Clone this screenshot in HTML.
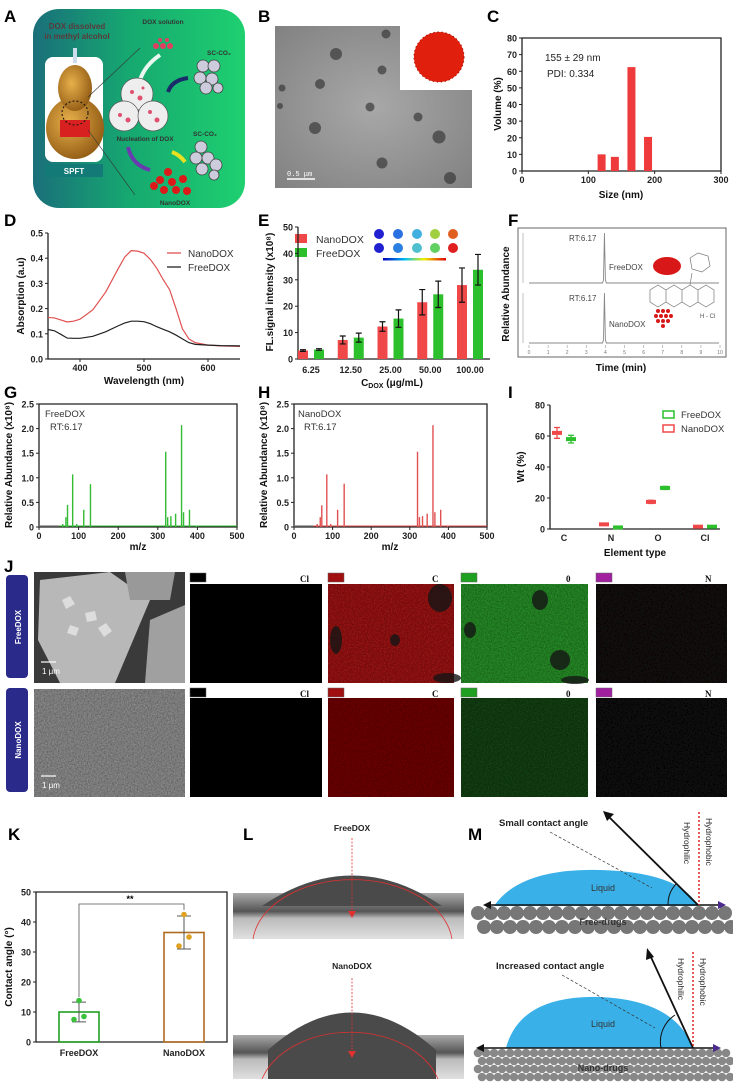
<!DOCTYPE html>
<html><head><meta charset="utf-8"><style>
html,body{margin:0;padding:0;background:#fff;}
svg{display:block;font-family:"Liberation Sans",sans-serif;}
.pl{font-size:17px;font-weight:bold;}
.tk{font-size:9px;font-weight:bold;fill:#222;}
.at{font-size:10px;font-weight:bold;fill:#111;}
</style></head><body>
<svg id="fig" width="733" height="1084" viewBox="0 0 733 1084" xmlns="http://www.w3.org/2000/svg">
<defs>
<linearGradient id="ga" x1="0" x2="1" y1="0" y2="0"><stop offset="0" stop-color="#1a6f7a"/><stop offset="0.45" stop-color="#16a870"/><stop offset="1" stop-color="#1ed070"/></linearGradient>
<radialGradient id="gold" cx="0.4" cy="0.4" r="0.7"><stop offset="0" stop-color="#e8b04a"/><stop offset="1" stop-color="#8a5410"/></radialGradient>
<radialGradient id="tem" cx="0.5" cy="0.5" r="0.8"><stop offset="0" stop-color="#a8a8a8"/><stop offset="1" stop-color="#7c7c7c"/></radialGradient>
<linearGradient id="lim" x1="0" x2="0" y1="0" y2="1"><stop offset="0" stop-color="#aaa"/><stop offset="0.4" stop-color="#555"/><stop offset="0.55" stop-color="#bbb"/><stop offset="1" stop-color="#e0e0e0"/></linearGradient>
<filter id="noise" x="0" y="0" width="1" height="1"><feTurbulence type="fractalNoise" baseFrequency="0.7" numOctaves="2" result="n"/><feColorMatrix in="n" type="matrix" values="0 0 0 0 0  0 0 0 0 0  0 0 0 0 0  0 0 0 0.8 0" result="d"/><feComposite in="d" in2="SourceGraphic" operator="in" result="dd"/><feMerge><feMergeNode in="SourceGraphic"/><feMergeNode in="dd"/></feMerge></filter>
</defs>

<!-- Panel A -->
<g>
<text class="pl" x="4" y="22">A</text>
<rect x="33" y="9" width="212" height="199" rx="26" fill="url(#ga)"/>
<text x="77" y="29" font-size="8" font-weight="bold" fill="#5a3a3a" text-anchor="middle">DOX dissolved</text>
<text x="77" y="39" font-size="8" font-weight="bold" fill="#5a3a3a" text-anchor="middle">in methyl alcohol</text>
<rect x="45" y="57" width="58" height="105" rx="8" fill="#fff"/>
<ellipse cx="75" cy="128" rx="29" ry="31" fill="url(#gold)"/>
<ellipse cx="75" cy="88" rx="17" ry="23" fill="url(#gold)"/>
<rect x="73" y="48" width="4" height="15" fill="#cde"/>
<rect x="60" y="120" width="30" height="17" fill="#d82020"/>
<ellipse cx="75" cy="113" rx="13" ry="12" fill="none" stroke="#111" stroke-dasharray="2 2"/>
<rect x="45" y="164" width="58" height="13" fill="#137a78"/>
<text x="74" y="174" font-size="8" font-weight="bold" fill="#fff" text-anchor="middle">SPFT</text>
<line x1="88" y1="97" x2="140" y2="48" stroke="#333" stroke-width="0.6"/><line x1="88" y1="130" x2="135" y2="195" stroke="#333" stroke-width="0.6"/>
<text x="163" y="24" font-size="6.5" font-weight="bold" fill="#333" text-anchor="middle">DOX solution</text>
<g fill="#e04060"><circle cx="156" cy="46" r="3"/><circle cx="163" cy="46" r="3"/><circle cx="170" cy="46" r="3"/><circle cx="160" cy="40" r="2"/><circle cx="167" cy="40" r="2"/></g>
<path d="M160 55 Q145 65 140 80" stroke="#e8f8f0" stroke-width="4" fill="none"/>
<g fill="#eee" stroke="#555" stroke-width="0.7"><circle cx="137" cy="94" r="16"/><circle cx="124" cy="116" r="15"/><circle cx="153" cy="116" r="15"/></g>
<g fill="#e05070"><circle cx="132" cy="92" r="2"/><circle cx="140" cy="98" r="2.5"/><circle cx="120" cy="115" r="2"/><circle cx="128" cy="120" r="2.5"/><circle cx="150" cy="112" r="2"/><circle cx="157" cy="120" r="2.5"/><circle cx="143" cy="88" r="1.5"/></g>
<text x="207" y="55" font-size="6.5" font-weight="bold" fill="#333">SC-CO₂</text>
<g fill="#ccd" stroke="#444" stroke-width="0.8"><circle cx="203" cy="66" r="6"/><circle cx="214" cy="66" r="6"/><circle cx="200" cy="78" r="6"/><circle cx="212" cy="79" r="6"/><circle cx="206" cy="88" r="6"/><circle cx="218" cy="88" r="5"/></g>
<path d="M188 78 Q172 80 168 92" stroke="#1a2a6a" stroke-width="4" fill="none"/>
<text x="145" y="141" font-size="6.5" font-weight="bold" fill="#333" text-anchor="middle">Nucleation of DOX</text>
<text x="193" y="136" font-size="6.5" font-weight="bold" fill="#333">SC-CO₂</text>
<g fill="#ccd" stroke="#444" stroke-width="0.8"><circle cx="201" cy="147" r="6"/><circle cx="196" cy="158" r="6"/><circle cx="208" cy="158" r="6"/><circle cx="202" cy="169" r="6"/><circle cx="216" cy="165" r="6"/><circle cx="214" cy="175" r="5"/></g>
<path d="M128 147 Q132 165 150 170" stroke="#6a3ab0" stroke-width="4" fill="none"/>
<path d="M172 152 Q180 155 185 162" stroke="#e8e020" stroke-width="4" fill="none"/>
<g fill="#dd1a1a"><circle cx="168" cy="172" r="4"/><circle cx="160" cy="180" r="4"/><circle cx="172" cy="182" r="4"/><circle cx="183" cy="179" r="4"/><circle cx="164" cy="190" r="4"/><circle cx="176" cy="190" r="4"/><circle cx="187" cy="191" r="4"/><circle cx="154" cy="186" r="4"/></g>
<text x="175" y="205" font-size="6.5" font-weight="bold" fill="#333" text-anchor="middle">NanoDOX</text>
</g>

<!-- Panel B -->
<g>
<text class="pl" x="258" y="22">B</text>
<rect x="275" y="26" width="197" height="162" fill="url(#tem)"/>
<g fill="#3a3a3a" opacity="0.7" id="temdots"></g>
<rect x="400" y="26" width="73" height="64" fill="#fff"/>
<circle cx="439" cy="57" r="25" fill="#e0200c"/>
<circle cx="439" cy="57" r="25" fill="none" stroke="#b01000" stroke-width="1" stroke-dasharray="1.5 2.5"/>
<line x1="287" y1="179" x2="315" y2="179" stroke="#fff" stroke-width="1.5"/>
<text x="287" y="176" font-size="7" fill="#fff" font-family="Liberation Mono">0.5 μm</text>
</g>

<!-- Panel C -->
<g id="pc">
<text class="pl" x="487" y="22">C</text>
<text x="545" y="61" font-size="10" fill="#222">155 ± 29 nm</text>
<text x="547" y="77" font-size="10" fill="#222">PDI: 0.334</text>
<text class="at" x="621" y="198" text-anchor="middle">Size (nm)</text>
<text class="at" transform="translate(501,104) rotate(-90)" text-anchor="middle">Volume (%)</text>
</g>

<!-- Panel D -->
<g id="pd">
<text class="pl" x="4" y="226">D</text>
<text class="at" x="144" y="384" text-anchor="middle">Wavelength (nm)</text>
<text class="at" transform="translate(24,296) rotate(-90)" text-anchor="middle">Absorption (a.u)</text>
<line x1="167" y1="253" x2="181" y2="253" stroke="#e05050" stroke-width="1.3"/>
<text x="188" y="257" font-size="10" fill="#333">NanoDOX</text>
<line x1="167" y1="267" x2="181" y2="267" stroke="#222" stroke-width="1.3"/>
<text x="188" y="271" font-size="10" fill="#333">FreeDOX</text>
</g>

<!-- Panel E -->
<g id="pe">
<text class="pl" x="258" y="226">E</text>
<text class="at" transform="translate(273,292) rotate(-90)" text-anchor="middle">FL.signal intensity (x10⁸)</text>
<text class="at" x="392" y="386" text-anchor="middle">C<tspan font-size="7" dy="2">DOX</tspan><tspan dy="-2"> (μg/mL)</tspan></text>
<rect x="295" y="234" width="12" height="9" fill="#f04848"/>
<text x="316" y="243" font-size="10.5" fill="#333">NanoDOX</text>
<rect x="295" y="248" width="12" height="9" fill="#2cc02c"/>
<text x="316" y="257" font-size="10.5" fill="#333">FreeDOX</text>
<g>
<circle cx="379" cy="234" r="5" fill="#2020d0"/><circle cx="398" cy="234" r="5" fill="#2a70e0"/><circle cx="417" cy="234" r="5" fill="#40b0e0"/><circle cx="435" cy="234" r="5" fill="#a0d040"/><circle cx="453" cy="234" r="5" fill="#e06020"/>
<circle cx="379" cy="248" r="5" fill="#2020d0"/><circle cx="398" cy="248" r="5" fill="#2a80e0"/><circle cx="417" cy="248" r="5" fill="#50c0d0"/><circle cx="435" cy="248" r="5" fill="#60d060"/><circle cx="453" cy="248" r="5" fill="#e02020"/>
</g>
<linearGradient id="cbar"><stop offset="0" stop-color="#0000c0"/><stop offset="0.35" stop-color="#00c0f0"/><stop offset="0.65" stop-color="#f0f000"/><stop offset="1" stop-color="#e00000"/></linearGradient>
<rect x="383" y="258" width="63" height="2.5" fill="url(#cbar)"/>
</g>

<!-- Panel F -->
<g id="pf">
<text class="pl" x="508" y="226">F</text>
<rect x="518" y="228" width="208" height="129" fill="#fff" stroke="#666" stroke-width="1"/>
<text class="at" transform="translate(509,294) rotate(-90)" text-anchor="middle" font-size="9">Relative Abundance</text>
<text class="at" x="621" y="371" text-anchor="middle" font-size="9">Time (min)</text>
<text x="569" y="241" font-size="8" fill="#444">RT:6.17</text>
<text x="609" y="270" font-size="8" fill="#444">FreeDOX</text>
<text x="569" y="301" font-size="8" fill="#444">RT:6.17</text>
<text x="609" y="327" font-size="8" fill="#444">NanoDOX</text>
<ellipse cx="667" cy="266" rx="14" ry="9" fill="#d81818"/>
<g fill="#d81818"><circle cx="658" cy="311" r="2"/><circle cx="663" cy="311" r="2"/><circle cx="668" cy="311" r="2"/><circle cx="656" cy="316" r="2"/><circle cx="661" cy="316" r="2"/><circle cx="666" cy="316" r="2"/><circle cx="671" cy="316" r="2"/><circle cx="658" cy="321" r="2"/><circle cx="663" cy="321" r="2"/><circle cx="668" cy="321" r="2"/><circle cx="663" cy="326" r="2"/></g>
<g fill="none" stroke="#777" stroke-width="0.7">
<path d="M650 290 l0 12 l8 5 l8 -5 l0 -12 l-8 -5z M666 290 l0 12 l8 5 l8 -5 l0 -12 l-8 -5z M682 290 l0 12 l8 5 l8 -5 l0 -12 l-8 -5z M698 290 l0 12 l8 5 l8 -5 l0 -12 l-8 -5z"/>
<path d="M690 258 l8 -5 l10 3 l2 10 l-8 6 l-10 -3z M690 285 l2 -12"/>
</g>
<text x="700" y="318" font-size="6" fill="#555">H - Cl</text>
</g>

<!-- Panels G, H, I -->
<g id="pg">
<text class="pl" x="4" y="398">G</text>
<text x="45" y="417" font-size="9.5" fill="#333">FreeDOX</text>
<text x="50" y="430" font-size="9.5" fill="#333">RT:6.17</text>
<text class="at" x="138" y="550" text-anchor="middle">m/z</text>
<text class="at" transform="translate(12,465) rotate(-90)" text-anchor="middle" font-size="9">Relative Abundance (x10⁸)</text>
</g>
<g id="ph">
<text class="pl" x="258" y="398">H</text>
<text x="298" y="417" font-size="9.5" fill="#333">NanoDOX</text>
<text x="304" y="430" font-size="9.5" fill="#333">RT:6.17</text>
<text class="at" x="390" y="550" text-anchor="middle">m/z</text>
<text class="at" transform="translate(267,465) rotate(-90)" text-anchor="middle" font-size="9">Relative Abundance (x10⁸)</text>
</g>
<g id="pi">
<text class="pl" x="508" y="398">I</text>
<text class="at" x="635" y="556" text-anchor="middle">Element type</text>
<text class="at" transform="translate(524,467) rotate(-90)" text-anchor="middle">Wt (%)</text>
<rect x="663" y="411" width="11" height="7" fill="none" stroke="#2cc02c" stroke-width="1.5"/>
<text x="681" y="418" font-size="9.5" fill="#333">FreeDOX</text>
<rect x="663" y="425" width="11" height="7" fill="none" stroke="#f04848" stroke-width="1.5"/>
<text x="681" y="432" font-size="9.5" fill="#333">NanoDOX</text>
</g>

<!-- Panel J -->
<g>
<text class="pl" x="4" y="572">J</text>
<rect x="6" y="575" width="22" height="103" rx="4" fill="#2a2a8a"/>
<text transform="translate(21,627) rotate(-90)" font-size="8" font-weight="bold" fill="#fff" text-anchor="middle">FreeDOX</text>
<rect x="6" y="688" width="22" height="104" rx="4" fill="#2a2a8a"/>
<text transform="translate(21,740) rotate(-90)" font-size="8" font-weight="bold" fill="#fff" text-anchor="middle">NanoDOX</text>
<g>
<rect x="34" y="572" width="151" height="111" fill="#3a3a3a"/>
<path d="M40 580 L110 572 L150 600 L115 683 L60 683 L38 640z" fill="#b8b8b8"/>
<path d="M150 620 L185 605 L185 683 L145 683z" fill="#a0a0a0"/>
<path d="M125 572 L175 572 L170 600 L130 600z" fill="#999"/>
<g fill="#ddd"><path d="M62 600 l8 -4 l5 8 l-9 5z"/><path d="M85 613 l10 -2 l2 9 l-10 2z"/><path d="M70 625 l9 3 l-3 8 l-9 -3z"/><path d="M98 628 l8 -5 l6 8 l-8 6z"/></g>
<line x1="41" y1="662" x2="56" y2="662" stroke="#fff" stroke-width="1.2"/>
<text x="42" y="674" font-size="8" fill="#fff">1 μm</text>
</g>
<g>
<rect x="34" y="689" width="151" height="108" fill="#9a9a9a" filter="url(#noise)"/>
<line x1="41" y1="776" x2="56" y2="776" stroke="#fff" stroke-width="1.2"/>
<text x="42" y="788" font-size="8" fill="#fff">1 μm</text>
</g>
<g id="jmaps"></g>
</g>

<!-- Panel K -->
<g id="pk">
<text class="pl" x="8" y="840">K</text>
<text class="at" transform="translate(12,967) rotate(-90)" text-anchor="middle" font-size="8">Contact angle (°)</text>
</g>

<!-- Panel L -->
<g>
<text class="pl" x="243" y="840">L</text>
<text x="352" y="831" font-size="8.5" font-weight="bold" fill="#222" text-anchor="middle">FreeDOX</text>
<rect x="233" y="893" width="231" height="46" fill="url(#lim)"/>
<path d="M262 906 Q352 845 442 906z" fill="#4a4a4a"/>
<path d="M253 939 A100 66 0 0 1 452 939" fill="none" stroke="#e03030" stroke-width="0.8"/>
<line x1="352" y1="838" x2="352" y2="915" stroke="#e03030" stroke-width="0.8" stroke-dasharray="2 1.5"/>
<path d="M348 911 L352 918 L356 911z" fill="#e03030"/>
<text x="352" y="969" font-size="8.5" font-weight="bold" fill="#222" text-anchor="middle">NanoDOX</text>
<rect x="233" y="1035" width="231" height="44" fill="url(#lim)"/>
<path d="M268 1050 Q352 975 436 1050 L436 1079 L268 1079z" fill="#4a4a4a"/>
<path d="M262 1079 A92 66 0 0 1 438 1079" fill="none" stroke="#e03030" stroke-width="0.8"/>
<line x1="352" y1="978" x2="352" y2="1055" stroke="#e03030" stroke-width="0.8" stroke-dasharray="2 1.5"/>
<path d="M348 1051 L352 1058 L356 1051z" fill="#e03030"/>
</g>

<!-- Panel M -->
<g>
<text class="pl" x="468" y="840">M</text>
<g>
<path d="M494 906 Q520 868 600 870 Q680 872 698 906z" fill="#3ab0e8"/>
<g fill="#777" id="mground1"></g>
<text x="603" y="925" font-size="9" font-weight="bold" fill="#333" text-anchor="middle">Free-drugs</text>
<text x="603" y="891" font-size="9" fill="#333" text-anchor="middle">Liquid</text>
<line x1="487" y1="905" x2="718" y2="905" stroke="#111" stroke-width="1.5"/><path d="M483 905 l8 -4 l0 8z" fill="#111"/><path d="M718 901 l8 4 l-8 4z" fill="#4a2a8a"/>
<line x1="698" y1="905" x2="608" y2="816" stroke="#111" stroke-width="1.8"/><path d="M603 811 l11 3 l-7 7z" fill="#111"/>
<line x1="699" y1="812" x2="699" y2="905" stroke="#e02020" stroke-width="1.5" stroke-dasharray="2 2"/>
<path d="M668 905 A30 30 0 0 1 676 884" fill="none" stroke="#111" stroke-width="1"/>
<line x1="550" y1="832" x2="652" y2="888" stroke="#333" stroke-width="0.7" stroke-dasharray="3 2"/>
<text x="499" y="826" font-size="9.5" font-weight="bold" fill="#222">Small contact angle</text>
<text transform="translate(706,818) rotate(90)" font-size="8.5" fill="#222">Hydrophobic</text>
<text transform="translate(684,822) rotate(90)" font-size="8.5" fill="#222">Hydrophilic</text>
</g>
<g>
<path d="M506 1048 Q520 995 600 997 Q675 1000 693 1048z" fill="#3ab0e8"/>
<g fill="#888" id="mground2"></g>
<text x="603" y="1071" font-size="9" font-weight="bold" fill="#333" text-anchor="middle">Nano-drugs</text>
<text x="603" y="1027" font-size="9" fill="#333" text-anchor="middle">Liquid</text>
<line x1="481" y1="1048" x2="713" y2="1048" stroke="#111" stroke-width="1.5"/><path d="M476 1048 l8 -4 l0 8z" fill="#111"/><path d="M713 1044 l8 4 l-8 4z" fill="#4a2a8a"/>
<line x1="693" y1="1048" x2="650" y2="955" stroke="#111" stroke-width="1.8"/><path d="M647 948 l7 9 l-8 3z" fill="#111"/>
<line x1="693" y1="952" x2="693" y2="1048" stroke="#e02020" stroke-width="1.5" stroke-dasharray="2 2"/>
<path d="M661 1048 A32 32 0 0 1 675 1015" fill="none" stroke="#111" stroke-width="1"/>
<line x1="562" y1="975" x2="655" y2="1028" stroke="#333" stroke-width="0.7" stroke-dasharray="3 2"/>
<text x="496" y="969" font-size="9.5" font-weight="bold" fill="#222">Increased contact angle</text>
<text transform="translate(700,958) rotate(90)" font-size="8.5" fill="#222">Hydrophobic</text>
<text transform="translate(678,958) rotate(90)" font-size="8.5" fill="#222">Hydrophilic</text>
</g>
</g>
</svg>
<script>
// ---------- DATA ----------
const cSizes=[120,140,165,190];
const cVolume=[10,8.5,62.5,20.5];
const cXTicks=[0,100,200,300];
const cYTicks=[0,10,20,30,40,50,60,70,80];

const dWavelength=[350,360,370,380,390,400,420,440,460,470,480,490,500,510,520,530,540,550,560,570,580,600,620,650];
const dNano=[0.165,0.163,0.155,0.147,0.150,0.158,0.195,0.265,0.36,0.405,0.43,0.428,0.42,0.395,0.36,0.315,0.275,0.2,0.12,0.08,0.065,0.055,0.052,0.05];
const dFree=[0.117,0.112,0.098,0.083,0.082,0.082,0.09,0.108,0.132,0.143,0.15,0.15,0.148,0.14,0.128,0.118,0.108,0.095,0.08,0.065,0.058,0.055,0.053,0.052];
const dXTicks=[400,500,600];
const dYTicks=[0,0.1,0.2,0.3,0.4,0.5];
const dYLabels=['0.0','0.1','0.2','0.3','0.4','0.5'];

const eCategories=['6.25','12.50','25.00','50.00','100.00'];
const eNano=[3.2,7.2,12.3,21.5,28];
const eNanoErr=[0.3,1.5,1.8,4.8,6.5];
const eFree=[3.6,8.1,15.3,24.5,33.8];
const eFreeErr=[0.3,1.7,3.3,5.0,5.8];
const eYTicks=[0,10,20,30,40,50];

const fTimeTicks=[0,1,2,3,4,5,6,7,8,9,10];
const fPeakTime=[3.95];
const fPeakHeight=[100];

const msMz=[60,68,72,85,95,113,130,320,325,333,345,360,365,380,398];
const msFreeAb=[0.06,0.2,0.45,1.07,0.06,0.35,0.87,1.53,0.2,0.22,0.27,2.07,0.3,0.35,0.03];
const msNanoAb=[0.06,0.2,0.44,1.07,0.06,0.35,0.88,1.53,0.2,0.22,0.27,2.07,0.3,0.35,0.03];
const msXTicks=[0,100,200,300,400,500];
const msYTicks=[0,0.5,1,1.5,2,2.5];
const msYLabels=['0','0.5','1.0','1.5','2.0','2.5'];

const iElements=['C','N','O','Cl'];
const iNano=[62,3,17.5,1.5];
const iNanoErr=[3.5,0.5,1,0.3];
const iFree=[58,1,26.5,1.5];
const iFreeErr=[2.5,0.3,1,0.3];
const iYTicks=[0,20,40,60,80];

const kGroups=['FreeDOX','NanoDOX'];
const kMean=[10,36.5];
const kSD=[3.3,5.5];
const kPointsFree=[13.8,8.5,7.5];
const kPointsNano=[42.5,35,32];
const kYTicks=[0,10,20,30,40,50];

// ---------- HELPERS ----------
const NS='http://www.w3.org/2000/svg';
function mk(tag,attrs,parent){const e=document.createElementNS(NS,tag);for(const k in attrs)e.setAttribute(k,attrs[k]);parent.appendChild(e);return e;}
function lin(d0,d1,r0,r1){return v=>r0+(v-d0)/(d1-d0)*(r1-r0);}
function yAxis(g,ticks,labels,sy,x,fs){
  ticks.forEach((t,i)=>{
    const l=mk('line',{x1:x-3,x2:x,y1:sy(t),y2:sy(t),stroke:'#222','stroke-width':1},g);
    
    
    const tx=mk('text',{x:x-5,y:sy(t)+3.5,'text-anchor':'end',class:'tk','font-size':fs||9},g);
    
    
    tx.textContent=labels?labels[i]:t;
  });
}
function xAxis(g,ticks,labels,sx,y,fs){
  ticks.forEach((t,i)=>{
    const l=mk('line',{x1:sx(t),x2:sx(t),y1:y,y2:y+3,stroke:'#222','stroke-width':1},g);
    
    
    const tx=mk('text',{x:sx(t),y:y+12,'text-anchor':'middle',class:'tk','font-size':fs||9},g);
    
    
    tx.textContent=labels?labels[i]:t;
  });
}
function frame(g,x0,x1,y0,y1,box){
  const a=mk('path',{d:box?`M${x0} ${y1}H${x1}V${y0}H${x0}Z`:`M${x0} ${y0}V${y1}H${x1}`,fill:'none',stroke:'#222','stroke-width':1.3},g);
  
  
}

// ---------- B: TEM dots ----------
(function(){
  const g=document.getElementById('temdots');
  [[336,54,6],[282,88,3.5],[320,84,5],[382,70,4.5],[386,34,4.5],[280,106,3],[370,107,4.5],[418,117,4.5],[315,128,6],[439,137,6.5],[382,163,5.5],[450,178,6]].forEach(p=>{
    const c=mk('circle',{cx:p[0],cy:p[1],r:p[2]},g);
    
    
  });
})();

// ---------- C ----------
(function(){
  const g=document.getElementById('pc');
  const sx=lin(0,300,522,721), sy=lin(0,80,171,38);
  frame(g,522,721,38,171,true);
  yAxis(g,cYTicks,null,sy,522);
  xAxis(g,cXTicks,null,sx,171,10);
  cSizes.forEach((s,i)=>{
    const b=mk('rect',{x:sx(s)-4,y:sy(cVolume[i]),width:8,height:sy(0)-sy(cVolume[i]),fill:'#ee3a3a'},g);
    
    
  });
})();

// ---------- D ----------
(function(){
  const g=document.getElementById('pd');
  const sx=lin(350,650,48,240), sy=lin(0,0.5,359,233);
  frame(g,48,240,233,359,false);
  yAxis(g,dYTicks,dYLabels,sy,48,9.5);
  xAxis(g,dXTicks,null,sx,359,9.5);
  const p1=mk('polyline',{points:dWavelength.map((w,i)=>sx(w)+','+sy(dNano[i])).join(' '),fill:'none',stroke:'#e05050','stroke-width':1.2},g);
  
  
  const p2=mk('polyline',{points:dWavelength.map((w,i)=>sx(w)+','+sy(dFree[i])).join(' '),fill:'none',stroke:'#222','stroke-width':1.2},g);
  
  
})();

// ---------- E ----------
(function(){
  const g=document.getElementById('pe');
  const sy=lin(0,50,359,227), gx=lin(0,4,311,470);
  frame(g,298,490,227,359,false);
  yAxis(g,eYTicks,null,sy,298,10);
  eCategories.forEach((c,i)=>{
    const t=mk('text',{x:gx(i),y:373,'text-anchor':'middle',class:'tk','font-size':9.5},g);
    
    
    t.textContent=c;
    [[eNano,eNanoErr,-8,'#f04848','nanodox-bar'],[eFree,eFreeErr,8,'#2cc02c','freedox-bar']].forEach(s=>{
      const v=s[0][i], e=s[1][i], cx=gx(i)+s[2];
      const b=mk('rect',{x:cx-5,y:sy(v),width:10,height:sy(0)-sy(v),fill:s[3]},g);
      
      
      const eb=mk('path',{d:`M${cx} ${sy(v-e)}V${sy(v+e)}M${cx-3} ${sy(v+e)}H${cx+3}M${cx-3} ${sy(v-e)}H${cx+3}`,stroke:'#111','stroke-width':1.2,fill:'none'},g);
      
      
    });
  });
})();

// ---------- F ----------
(function(){
  const g=document.getElementById('pf');
  const sx=lin(0,10,529,720);
  [[283,233],[343,293]].forEach((r,k)=>{
    const sy=lin(0,100,r[0],r[1]);
    const pts=[];
    for(let t=0;t<=10;t+=0.05){let v=0;fPeakTime.forEach((pt,j)=>{v+=fPeakHeight[j]*Math.exp(-Math.pow((t-pt)/0.03,2));});pts.push(sx(t)+','+sy(v));}
    const p=mk('polyline',{points:pts.join(' '),fill:'none',stroke:'#888','stroke-width':0.9},g);
    
    
    const ax=mk('line',{x1:523,x2:523,y1:r[1],y2:r[0],stroke:'#999','stroke-width':0.6},g);
    
    
  });
  fTimeTicks.forEach(t=>{
    const l=mk('line',{x1:sx(t),x2:sx(t),y1:345,y2:348,stroke:'#999','stroke-width':0.6},g);
    
    
    const tx=mk('text',{x:sx(t),y:354,'text-anchor':'middle','font-size':5,fill:'#777'},g);
    
    
    tx.textContent=t;
  });
})();

// ---------- G, H ----------
function msChart(id,x0,x1,ab,color){
  const g=document.getElementById(id);
  const sx=lin(0,500,x0,x1), sy=lin(0,2.5,527,404);
  frame(g,x0,x1,404,527,true);
  yAxis(g,msYTicks,msYLabels,sy,x0,9.5);
  xAxis(g,msXTicks,null,sx,527,9.5);
  const base=mk('line',{x1:sx(0),x2:sx(50),y1:sy(0)-1,y2:sy(0)-1,stroke:'#777','stroke-width':1.2},g);
  
  
  const base2=mk('line',{x1:sx(50),x2:sx(500),y1:sy(0)-1,y2:sy(0)-1,stroke:color,'stroke-width':1},g);
  
  
  msMz.forEach((m,i)=>{
    const l=mk('line',{x1:sx(m),x2:sx(m),y1:sy(0),y2:sy(ab[i]),stroke:color,'stroke-width':1.4},g);
    
    
  });
}
msChart('pg',39,237,msFreeAb,'#33bb33');
msChart('ph',294,487,msNanoAb,'#e05050');

// ---------- I ----------
(function(){
  const g=document.getElementById('pi');
  const sy=lin(0,80,529,405), cx=lin(0,3,564,705);
  frame(g,550,720,405,529,false);
  yAxis(g,iYTicks,null,sy,550,9);
  iElements.forEach((el,i)=>{
    const t=mk('text',{x:cx(i),y:541,'text-anchor':'middle',class:'tk','font-size':9.5},g);
    
    
    t.textContent=el;
    [[iNano,iNanoErr,-7,'#f04848','nanodox-box'],[iFree,iFreeErr,7,'#2cc02c','freedox-box']].forEach(s=>{
      const v=s[0][i], e=s[1][i], x=cx(i)+s[2];
      const w=mk('path',{d:`M${x} ${sy(v-e)}V${sy(v+e)}M${x-3} ${sy(v+e)}H${x+3}M${x-3} ${sy(v-e)}H${x+3}`,stroke:s[3],'stroke-width':1.3,fill:'none'},g);
      
      
      const b=mk('rect',{x:x-5,y:sy(v)-2,width:10,height:4,fill:s[3]},g);
      
      
    });
  });
})();

// ---------- J maps ----------
(function(){
  const g=document.getElementById('jmaps');
  const cols=[190,328,461,596], ws=[132,126,127,131];
  const labels=['Cl','C','0','N'];
  const sw=['#000','#a01010','#20a020','#a020a0'];
  const row1=['#0c0c0c','#a81c1c','#2e9a2e','#1c1212'];
  const row2=['#0a0a0a','#7a1010','#1a4a1a','#161616'];
  [[573,584,683,row1],[688,698,797,row2]].forEach(r=>{
    cols.forEach((x,i)=>{
      const s=mk('rect',{x:x,y:r[0],width:16,height:9,fill:sw[i],stroke:'#666','stroke-width':0.5},g);
      
      
      const t=mk('text',{x:x+ws[i]-22,y:r[0]+9,'font-size':9,'font-weight':'bold','font-family':'Liberation Serif',fill:'#111'},g);
      
      
      t.textContent=labels[i];
      const m=mk('rect',{x:x,y:r[1],width:ws[i],height:r[2]-r[1],fill:r[3][i],filter:'url(#noise)'},g);
      
      
    });
  });
  // dark patches in FreeDOX C and O maps
  [[440,598,12,14],[336,640,6,14],[395,640,5,6],[447,678,14,5],[540,600,8,10],[560,660,10,10],[470,630,6,8],[575,680,14,4]].forEach(p=>{
    const e=mk('ellipse',{cx:p[0],cy:p[1],rx:p[2],ry:p[3],fill:'#151515',opacity:0.8},g);
    
    
  });
})();

// ---------- K ----------
(function(){
  const g=document.getElementById('pk');
  const sy=lin(0,50,1042,892), cx=[79,184];
  frame(g,36,227,892,1042,true);
  yAxis(g,kYTicks,null,sy,36,9);
  const cols=['#22a022','#b06a20'], pcols=['#3ac03a','#e0a020'];
  const pts=[kPointsFree,kPointsNano];
  kGroups.forEach((n,i)=>{
    const t=mk('text',{x:cx[i],y:1056,'text-anchor':'middle',class:'tk','font-size':8.5},g);
    
    
    t.textContent=n;
    const b=mk('rect',{x:cx[i]-20,y:sy(kMean[i]),width:40,height:sy(0)-sy(kMean[i]),fill:'none',stroke:cols[i],'stroke-width':1.6},g);
    
    
    const lo=kMean[i]-kSD[i], hi=kMean[i]+kSD[i];
    const e=mk('path',{d:`M${cx[i]} ${sy(lo)}V${sy(hi)}M${cx[i]-7} ${sy(hi)}H${cx[i]+7}M${cx[i]-7} ${sy(lo)}H${cx[i]+7}`,stroke:'#555','stroke-width':1,fill:'none'},g);
    
    
    pts[i].forEach((v,j)=>{
      const c=mk('circle',{cx:cx[i]+[0,5,-5][j],cy:sy(v),r:2.8,fill:pcols[i]},g);
      
      
    });
  });
  const br=mk('path',{d:`M${cx[0]} ${sy(15)}V${sy(46)}H${cx[1]}V${sy(44)}`,fill:'none',stroke:'#555','stroke-width':0.8},g);
  
  
  const st=mk('text',{x:130,y:sy(46)-2,'text-anchor':'middle','font-size':9,'font-weight':'bold'},g);
  
  
  st.textContent='**';
})();

// ---------- M ground ----------
(function(){
  const g1=document.getElementById('mground1');
  for(let x=478;x<728;x+=13){for(let r=0;r<2;r++){
    const c=mk('circle',{cx:x+(r?6:0),cy:913+r*14,r:7},g1);
    
    
  }}
  const g2=document.getElementById('mground2');
  for(let x=478;x<728;x+=8){for(let r=0;r<4;r++){
    const c=mk('circle',{cx:x+(r%2?4:0),cy:1053+r*8,r:4.3},g2);
    
    
  }}
})();
</script>
</body></html>
